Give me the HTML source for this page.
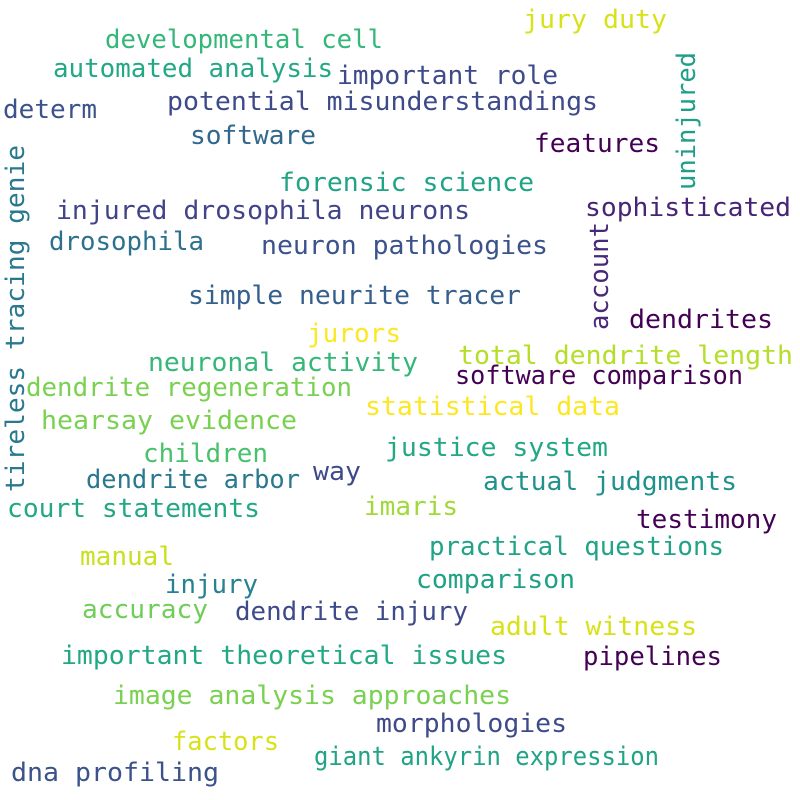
<!DOCTYPE html>
<html>
<head>
<meta charset="utf-8">
<style>
html,body{margin:0;padding:0;background:#fff;}
svg{display:block;}
text{font-family:"DejaVu Sans Mono","Liberation Mono",monospace;font-size:26px;}
</style>
</head>
<body>
<svg id="cloud" width="800" height="800" viewBox="0 0 800 800">
<rect width="800" height="800" fill="#ffffff"/>
</svg>
<script>
const words = ["jury duty","developmental cell","automated analysis","important role","uninjured","determ","potential misunderstandings","software","features","tireless tracing genie","forensic science","sophisticated","injured drosophila neurons","drosophila","neuron pathologies","account","simple neurite tracer","dendrites","jurors","neuronal activity","total dendrite length","software comparison","dendrite regeneration","statistical data","hearsay evidence","justice system","children","dendrite arbor","way","actual judgments","court statements","imaris","testimony","practical questions","manual","injury","comparison","accuracy","dendrite injury","adult witness","important theoretical issues","pipelines","image analysis approaches","morphologies","factors","giant ankyrin expression","dna profiling"];
const colors = ["#d8e219","#35b779","#22a884","#3e4a89","#1f9e89","#3b528b","#3e4a89","#31688e","#440154","#2a788e","#20a386","#482475","#414487","#2c728e","#3b528b","#482878","#355f8d","#440154","#fde725","#35b779","#b5de2b","#440154","#7ad151","#fde725","#7ad151","#22a884","#4ac16d","#2a788e","#3e4a89","#21918c","#22a884","#a0da39","#440154","#20a386","#c8e020","#26828e","#1fa187","#6ece58","#3e4a89","#d8e219","#22a884","#440154","#7ad151","#3e4a89","#d8e219","#20a386","#3b528b"];
// layout boxes: [x1, x2, centerY] for horizontal; vertical: [centerX, yBottom, yTop]
const boxes = [[523,667,20],[105,383,40],[53,333,69],[337,558,76],[687,190,52],[3,97,110],[167,598,102],[190,316,136],[534,660,144],[16,492,145],[279,534,183],[585,791,208],[56,470,211],[49,204,242],[261,548,246],[600,330,222],[188,521,296],[629,773,320],[307,401,334],[148,418,363],[458,793,356],[455,743,376],[26,352,388],[365,620,407],[41,297,421],[385,608,448],[143,268,454],[86,300,480],[313,361,472],[483,737,482],[7,260,509],[364,458,507],[636,777,520],[429,724,547],[80,174,557],[165,258,585],[416,575,580],[82,208,610],[235,468,612],[490,697,627],[61,507,656],[583,722,657],[113,511,696],[376,567,724],[172,279,742],[314,659,757],[11,219,773]];
const vertical = [4,9,15];
const svg = document.getElementById('cloud');
const NS = 'http://www.w3.org/2000/svg';
words.forEach((w,i)=>{
  const t = document.createElementNS(NS,'text');
  t.textContent = w;
  t.setAttribute('fill', colors[i]);
  t.setAttribute('dominant-baseline','central');
  t.setAttribute('lengthAdjust','spacingAndGlyphs');
  const b = boxes[i];
  if (vertical.includes(i)) {
    const cx=b[0], yb=b[1], yt=b[2];
    t.setAttribute('x', 0); t.setAttribute('y', 0);
    t.setAttribute('textLength', yb-yt);
    t.setAttribute('transform', `translate(${cx},${yb}) rotate(-90)`);
  } else {
    t.setAttribute('x', b[0]); t.setAttribute('y', b[2]);
    t.setAttribute('textLength', b[1]-b[0]);
  }
  
  
  svg.appendChild(t);
});
</script>
</body>
</html>
